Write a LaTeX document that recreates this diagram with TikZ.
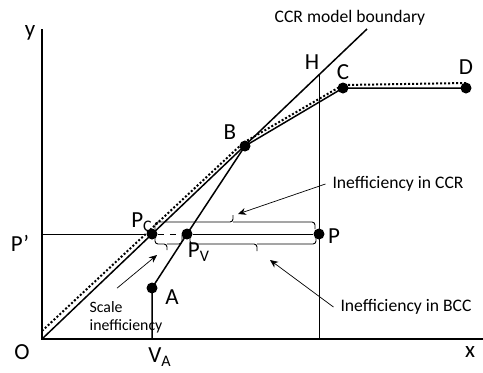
\documentclass[tikz,border=0pt]{standalone}
\usepackage{fontspec}
\setmainfont{Carlito}
\usepackage{tikz}
\usetikzlibrary{arrows.meta}

\begin{document}
\begin{tikzpicture}[x=0.5pt,y=0.5pt,>={Stealth[length=4pt,width=3.5pt]},
    axis/.style={line width=0.8pt},
    front/.style={line width=0.75pt},
    guide/.style={line width=0.35pt},
    brk/.style={line width=0.45pt,rounded corners=1.5pt},
    dot/.style={circle,fill,inner sep=0pt,minimum size=5.5pt},
    big/.style={font=\fontsize{11.5}{13}\selectfont},
    note/.style={font=\fontsize{8.8}{10}\selectfont}]
      \useasboundingbox (-42,-33) rectangle (441,339);
      % points
      \coordinate (O) at (0,0);
      \coordinate (VA) at (110,0);
      \coordinate (Pp) at (0,105);
      \coordinate (H) at (277,264);
      \coordinate (Ctop) at (325,310);
      \node[dot] (A) at (110,51) {};
      \node[dot] (Pc) at (110,105) {};
      \node[dot] (Pv) at (145,105) {};
      \node[dot] (P) at (277,105) {};
      \node[dot] (B) at (203,193) {};
      \node[dot] (C) at (301,251) {};
      \node[dot] (D) at (424,251) {};
      % axes and guides
      \draw[axis] (0,310) -- (O) -- (441,0);
      \draw[guide] (H) -- (H |- O);
      \draw[guide] (Pp) -- (Pc);
      \draw[guide,dashed] (Pc) -- (Pv);
      \draw[guide] (Pv) -- (P);
      % frontiers
      \draw[front] (O) -- (Ctop);
      \draw[front] (VA) -- (A.center) -- (Pv.center) -- (B.center) -- (C.center) -- (D.center);
      \draw[densely dotted,line width=1pt] (0,8) -- ([shift={(-2,3)}]B.center) -- ([yshift=1.5pt]C.center) -- ([yshift=2.5pt]D.center);
      % brackets
      \draw[brk] (113,110) |- (191,117) -- (191,124) (191,117) -| (273,110);
      \draw[brk] (148,104) |- (215,95) -- (215,88) (215,95) -| (274,104);
      \draw[brk] (113,104) |- (125,95) -- (125,89) (125,95) -| (140,104);
      % labels
      \node[big] (ylbl) at (-12,306) {y};
      \node[big] (xlbl) at (428,-13) {x};
      \node[big] (Olbl) at (-20,-13) {O};
      \node[big] (Pplbl) at (-22,96) {P’};
      \node[big] (VAlbl) at (118,-18) {V\textsubscript{A}};
      \node[big] (Albl) at (130,42) {A};
      \node[big] (Pvlbl) at (157,87) {P\textsubscript{V}};
      \node[big] (Pclbl) at (100,117) {P\textsubscript{C}};
      \node[big] (Blbl) at (188,207) {B};
      \node[big] (Hlbl) at (270,277) {H};
      \node[big] (Clbl) at (301,267) {C};
      \node[big] (Dlbl) at (424,272) {D};
      \node[big] (Plbl) at (292,103) {P};
      \node[note] (ccrb) at (308,321) {CCR model boundary};
      \node[note] (ccri) at (356,155) {Inefficiency in CCR};
      \node[note] (bcci) at (364,32) {Inefficiency in BCC};
      \node[font=\fontsize{7.9}{9}\selectfont,align=left] (scl) at (84,22) {Scale\\inefficiency};
      % pointers
      \coordinate (ccrtip) at (196,125);
      \coordinate (bcctip) at (228,79);
      \coordinate (scltip) at (115,84);
      \draw[guide,->] (ccri.west) -- (ccrtip);
      \draw[guide,->] (bcci.west) -- (bcctip);
      \draw[guide,->] ([shift={(-9,6)}]scl.north) -- (scltip);
\end{tikzpicture}
\end{document}
